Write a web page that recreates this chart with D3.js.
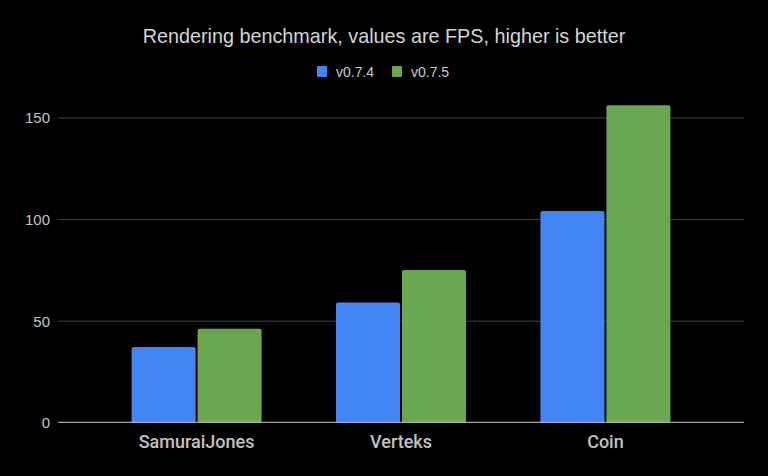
<!DOCTYPE html>
<html>
<head>
    <meta charset="utf-8">
    <style>
        body { margin: 0; background: #000; }
        svg { display: block; font-family: 'Liberation Sans', Arial, sans-serif; }
        .grid line { stroke: #444; }
        .grid .domain { display: none; }
        .y .domain { display: none; }
        .y .tick line { display: none; }
        .y .tick text { font-size: 15px; fill: #c4c4c4; font-family: 'Liberation Sans', Arial, sans-serif; }
        .x .domain { display: none; }
        .x .tick line { display: none; }
        .x .tick text { font-size: 18px; fill: #c2c2c2; font-weight: 500; font-family: Roboto, sans-serif; }
        .title { font-size: 19.8px; fill: #d4d4d4; }
        .legend text { font-size: 14px; fill: #ccc; }
    </style>
</head>
<body>
<svg width="768" height="476"></svg>

<script src="https://d3js.org/d3.v7.min.js"></script>
<script>
    // values
    let categories = ["SamuraiJones", "Verteks", "Coin"]
    let seriesNames = ["v0.7.4", "v0.7.5"]
    let v074 = [37, 59, 104]
    let v075 = [46, 75, 156]
    let yTicks = [0, 50, 100, 150]
    let colors = ["#4285f4", "#6aa84f"]

    let width = 768
    let height = 476
    let margin = { top: 100, right: 24, bottom: 54, left: 58 }

    let svg = d3.select("svg")

    let rows = categories.map((c, i) => ({ cat: c, vals: [v074[i], v075[i]] }))

    let x = d3.scaleBand()
        .domain(categories)
        .range([margin.left, width - margin.right])
        .paddingInner(0.364)
        .paddingOuter(0.36)

    let xSub = d3.scaleBand()
        .domain(seriesNames)
        .range([0, x.bandwidth()])
        .paddingInner(0.03)

    let y = d3.scaleLinear()
        .domain([0, 150])
        .range([422.3, 117.5])

    let color = d3.scaleOrdinal().domain(seriesNames).range(colors)

    // gridlines
    svg.append("g")
        .attr("class", "grid")
        .attr("transform", `translate(${margin.left},0)`)
        .call(d3.axisLeft(y).tickValues(yTicks.slice(1)).tickSize(-(width - margin.right - margin.left)).tickFormat(""))

    // y labels
    svg.append("g")
        .attr("class", "y axis")
        .attr("transform", `translate(${margin.left - 8},0)`)
        .call(d3.axisLeft(y).tickValues(yTicks).tickSize(0).tickPadding(0))
        .call(g => g.selectAll(".tick text").attr("dy", "0.36em"))

    // bars
    let rr = 2
    svg.append("g")
        .selectAll("g")
        .data(rows)
        .join("g")
        .attr("transform", d => `translate(${x(d.cat)},0)`)
        .selectAll("path")
        .data(d => d.vals.map((v, i) => ({ key: seriesNames[i], value: v })))
        .join("path")
        .attr("fill", d => color(d.key))
        .attr("d", d => {
            let x0 = xSub(d.key), w = xSub.bandwidth()
            let y0 = y(d.value), y1 = y(0)
            return `M${x0},${y1}V${y0 + rr}Q${x0},${y0} ${x0 + rr},${y0}H${x0 + w - rr}Q${x0 + w},${y0} ${x0 + w},${y0 + rr}V${y1}Z`
        })

    // baseline
    svg.append("line")
        .attr("x1", margin.left)
        .attr("x2", width - margin.right)
        .attr("y1", y(0))
        .attr("y2", y(0))
        .attr("stroke", "#ccc")
        .attr("stroke-width", 1)

    // category labels
    svg.append("g")
        .attr("class", "x axis")
        .attr("transform", `translate(0,${y(0)})`)
        .call(d3.axisBottom(x).tickSize(0).tickPadding(13))

    // title
    svg.append("text")
        .attr("class", "title")
        .attr("x", width / 2)
        .attr("y", 42.5)
        .attr("text-anchor", "middle")
        .text("Rendering benchmark, values are FPS, higher is better")

    // legend
    let legend = svg.append("g")
        .attr("class", "legend")
        .attr("transform", "translate(317,66)")

    let items = legend.selectAll("g")
        .data(seriesNames)
        .join("g")
        .attr("transform", (d, i) => `translate(${i * 75},0)`)

    items.append("rect")
        .attr("width", 10)
        .attr("height", 11)
        .attr("rx", 1)
        .attr("fill", d => color(d))

    items.append("text")
        .attr("x", 19)
        .attr("y", 10.5)
        .text(d => d)
</script>
</body>
</html>
